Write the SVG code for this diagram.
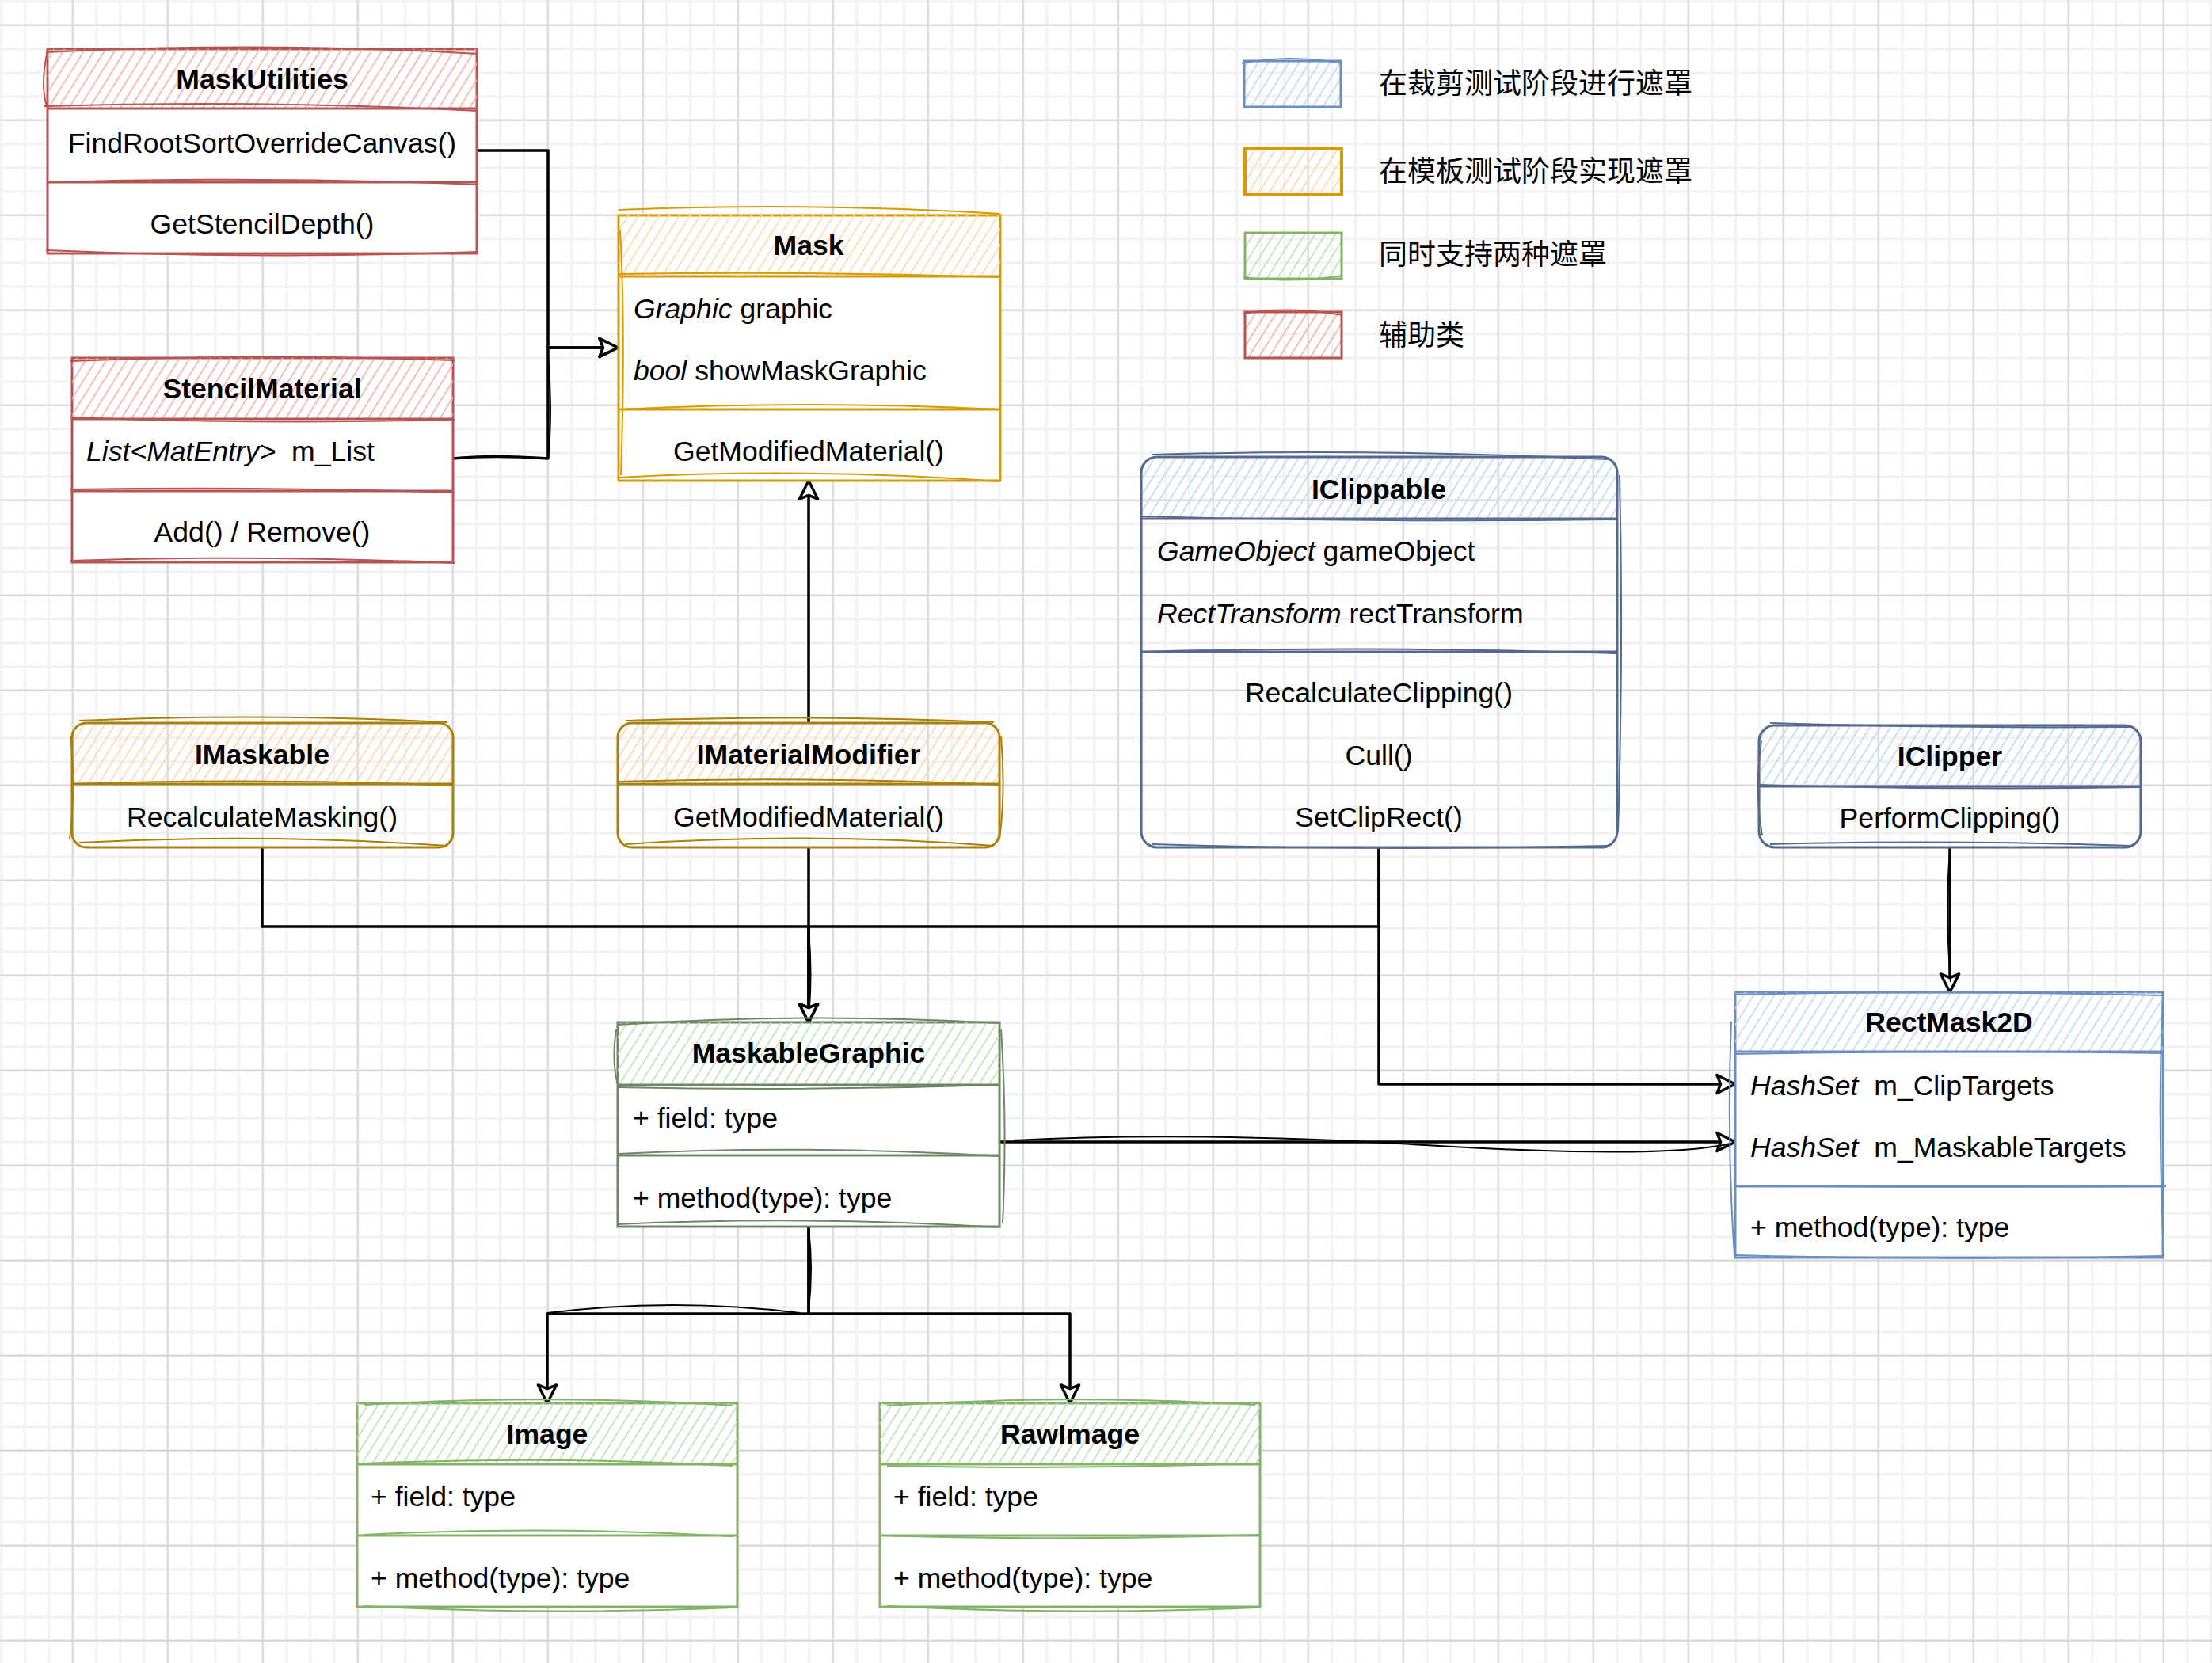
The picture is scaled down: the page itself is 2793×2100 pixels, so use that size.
<svg xmlns="http://www.w3.org/2000/svg" width="2793" height="2100" viewBox="0 0 2793 2100">
<style>
text{font-family:"Liberation Sans",Arial,Helvetica,sans-serif;font-size:35.6px;fill:#000;dominant-baseline:central;white-space:pre}
.h{font-weight:bold;text-anchor:middle}
.c{text-anchor:middle}
.it{font-style:italic}
.cjk{font-family:"Liberation Sans","Noto Sans CJK SC",sans-serif;font-size:36px}
.box{fill:#fff;stroke-width:3}
.sk{fill:none;stroke-width:2}
.red{stroke:#b85450}
.org{stroke:#d79b00}
.gld{stroke:#a8800a}
.dbl{stroke:#53698f}
.blu{stroke:#6c8ebf}
.dgr{stroke:#6d8764}
.grn{stroke:#82b366}
.edge{fill:none;stroke:#000;stroke-width:3.5;stroke-linejoin:round}
</style>
<defs>
<pattern id="gMin" patternUnits="userSpaceOnUse" x="-13.3" y="-13.3" width="30" height="30"><path d="M15,0V30M0,15H30" stroke="#f1f1f1" stroke-width="3"/></pattern>
<pattern id="gMaj" patternUnits="userSpaceOnUse" x="31.7" y="-28.3" width="120" height="120"><path d="M60,0V120M0,60H120" stroke="#d6d6d6" stroke-width="1.8"/></pattern>
<pattern id="hR" patternUnits="userSpaceOnUse" width="11" height="11" patternTransform="rotate(32)"><line x1="3" y1="0" x2="3" y2="11" stroke="#f1b2ae" stroke-width="1.7"/></pattern>
<pattern id="hO" patternUnits="userSpaceOnUse" width="11" height="11" patternTransform="rotate(32)"><line x1="3" y1="0" x2="3" y2="11" stroke="#ffd7ae" stroke-width="1.7"/></pattern>
<pattern id="hB" patternUnits="userSpaceOnUse" width="11" height="11" patternTransform="rotate(32)"><line x1="3" y1="0" x2="3" y2="11" stroke="#c3d8f5" stroke-width="1.7"/></pattern>
<pattern id="hG" patternUnits="userSpaceOnUse" width="11" height="11" patternTransform="rotate(32)"><line x1="3" y1="0" x2="3" y2="11" stroke="#c0dfbd" stroke-width="1.7"/></pattern>
<marker id="tri" markerUnits="userSpaceOnUse" markerWidth="30" markerHeight="30" viewBox="-2 -2 26 24" refX="20" refY="10" orient="auto">
<path d="M0,0 L20,10 L0,20 L4,10 Z" fill="#fff" stroke="#000" stroke-width="3" stroke-linejoin="round"/>
</marker>
</defs>

<rect width="2793" height="2100" fill="#fff"/>
<rect width="2793" height="2100" fill="url(#gMin)"/>
<rect width="2793" height="2100" fill="url(#gMaj)"/>

<g id="legend">
<rect x="1571" y="77" width="122" height="58" fill="url(#hB)" stroke="#6c8ebf" stroke-width="3"/>
<path class="sk blu" d="M1568,80 Q1630,68 1694,80"/>
<text class="cjk" x="1741" y="105">在裁剪测试阶段进行遮罩</text>
<rect x="1572" y="188" width="122" height="58" fill="url(#hO)" stroke="#d79b00" stroke-width="4"/>
<text class="cjk" x="1741" y="216">在模板测试阶段实现遮罩</text>
<rect x="1572" y="294" width="122" height="58" fill="url(#hG)" stroke="#82b366" stroke-width="3"/>
<path class="sk grn" d="M1570,350 Q1630,358 1695,348"/>
<text class="cjk" x="1741" y="321">同时支持两种遮罩</text>
<rect x="1572" y="394" width="122" height="58" fill="url(#hR)" stroke="#b85450" stroke-width="3"/>
<path class="sk red" d="M1570,396 Q1630,386 1695,398"/>
<text class="cjk" x="1741" y="423">辅助类</text>
</g>

<g id="connectors">
<path class="edge" d="M602,190 H692 V439 H780" marker-end="url(#tri)"/>
<path class="edge" d="M572,579 Q620,574 692,579 V439 H780" marker-end="url(#tri)"/>
<path class="sk" stroke="#000" d="M692,450 Q698,520 692,579"/>
<path class="edge" d="M1021,913 V607" marker-end="url(#tri)"/>
<path class="edge" d="M331,1070 V1170 H1021 V1291" marker-end="url(#tri)"/>
<path class="edge" d="M1021,1070 V1291" marker-end="url(#tri)"/>
<path class="sk" stroke="#000" d="M1021,1175 Q1026,1230 1021,1285"/>
<path class="edge" d="M1741,1070 V1170 H1021 V1291" marker-end="url(#tri)"/>
<path class="edge" d="M1741,1070 V1369 H2191" marker-end="url(#tri)"/>
<path class="edge" d="M1262,1442 H2191" marker-end="url(#tri)"/>
<path class="sk" stroke="#000" d="M1280,1440 Q1500,1428 1800,1446 T2185,1444"/>
<path class="edge" d="M2462,1070 V1253" marker-end="url(#tri)"/>
<path class="sk" stroke="#000" d="M2462,1075 Q2456,1150 2463,1240"/>
<path class="edge" d="M1021,1549 V1659 H691 V1772" marker-end="url(#tri)"/>
<path class="edge" d="M1021,1549 V1659 H1351 V1772" marker-end="url(#tri)"/>
<path class="sk" stroke="#000" d="M1021,1552 Q1027,1600 1021,1655"/>
<path class="sk" stroke="#000" d="M691,1658 Q850,1638 1010,1658"/>
</g>

<g id="MaskUtilities">
<rect class="box red" x="60" y="62" width="542" height="258"/>
<rect x="60" y="62" width="542" height="75" fill="url(#hR)"/>
<path class="sk red" d="M58,66 Q330,52 604,68 M56,134 Q330,126 604,140 M60,230 Q330,222 604,233 M58,316 Q330,328 604,318 M60,64 Q50,110 60,137"/>
<path fill="none" stroke="#b85450" stroke-width="3" d="M60,137 H602 M60,230 H602"/>
<text class="h" x="331" y="100">MaskUtilities</text>
<text class="c" x="331" y="181">FindRootSortOverrideCanvas()</text>
<text class="c" x="331" y="283">GetStencilDepth()</text>
</g>

<g id="StencilMaterial">
<rect class="box red" x="91" y="452" width="481" height="258"/>
<rect x="91" y="452" width="481" height="77" fill="url(#hR)"/>
<path class="sk red" d="M89,456 Q330,446 574,455 M89,527 Q330,536 574,530 M89,618 Q330,614 574,622 M89,708 Q330,700 574,711"/>
<path fill="none" stroke="#b85450" stroke-width="3" d="M91,529 H572 M91,620 H572"/>
<text class="h" x="331" y="491">StencilMaterial</text>
<text x="109" y="570"><tspan class="it">List&lt;MatEntry&gt;</tspan>  m_List</text>
<text class="c" x="331" y="672">Add() / Remove()</text>
</g>

<g id="Mask">
<rect class="box org" x="781" y="272" width="482" height="335"/>
<rect x="781" y="272" width="482" height="77" fill="url(#hO)"/>
<path class="sk org" d="M781,265 Q1020,255 1263,270 M781,346 Q1020,342 1263,350 M781,517 Q1020,505 1263,517 M781,603 Q1020,590 1263,608 M783,290 Q790,420 784,600"/>
<path fill="none" stroke="#d79b00" stroke-width="3" d="M781,349 H1263 M781,517 H1263"/>
<text class="h" x="1021" y="310">Mask</text>
<text x="800" y="390"><tspan class="it">Graphic</tspan> graphic</text>
<text x="800" y="468"><tspan class="it">bool</tspan> showMaskGraphic</text>
<text class="c" x="1021" y="570">GetModifiedMaterial()</text>
</g>

<g id="IMaskable">
<path d="M91,990 V933 Q91,913 111,913 H552 Q572,913 572,933 V990 Z" fill="url(#hO)"/>
<rect class="box gld" x="91" y="913" width="481" height="157" rx="18" style="fill:none"/>
<path class="sk gld" d="M100,910 Q330,900 565,912 M91,990 Q330,982 572,992 M100,1064 Q330,1052 565,1068 M89,930 Q96,990 88,1060"/>
<path fill="none" stroke="#a8800a" stroke-width="3" d="M91,990 H572"/>
<text class="h" x="331" y="953">IMaskable</text>
<text class="c" x="331" y="1032">RecalculateMasking()</text>
</g>

<g id="IMaterialModifier">
<path d="M780,990 V933 Q780,913 800,913 H1242 Q1262,913 1262,933 V990 Z" fill="url(#hO)"/>
<rect class="box gld" x="780" y="913" width="482" height="157" rx="18" style="fill:none"/>
<path class="sk gld" d="M790,910 Q1020,902 1255,912 M780,987 Q1020,980 1262,991 M790,1066 Q1020,1050 1255,1068 M1264,930 Q1270,1000 1262,1060"/>
<path fill="none" stroke="#a8800a" stroke-width="3" d="M780,990 H1262"/>
<text class="h" x="1021" y="953">IMaterialModifier</text>
<text class="c" x="1021" y="1032">GetModifiedMaterial()</text>
</g>

<g id="IClippable">
<path d="M1441,655 V597 Q1441,577 1461,577 H2022 Q2042,577 2042,597 V655 Z" fill="url(#hB)"/>
<rect class="box dbl" x="1441" y="577" width="601" height="493" rx="20" style="fill:none"/>
<path class="sk dbl" d="M1455,574 Q1740,566 2030,580 M1441,652 Q1740,660 2042,656 M1441,823 Q1740,815 2042,825 M1455,1066 Q1740,1075 2030,1068 M2045,600 Q2050,820 2043,1050"/>
<path fill="none" stroke="#53698f" stroke-width="3" d="M1441,655 H2042 M1441,823 H2042"/>
<text class="h" x="1741" y="618">IClippable</text>
<text x="1461" y="696"><tspan class="it">GameObject</tspan> gameObject</text>
<text x="1461" y="775"><tspan class="it">RectTransform</tspan> rectTransform</text>
<text class="c" x="1741" y="875">RecalculateClipping()</text>
<text class="c" x="1741" y="954">Cull()</text>
<text class="c" x="1741" y="1032">SetClipRect()</text>
</g>

<g id="IClipper">
<path d="M2221,993 V936 Q2221,916 2241,916 H2683 Q2703,916 2703,936 V993 Z" fill="url(#hB)"/>
<rect class="box dbl" x="2221" y="916" width="482" height="154" rx="20" style="fill:none"/>
<path class="sk dbl" d="M2235,913 Q2460,920 2690,918 M2221,991 Q2460,998 2703,994 M2235,1066 Q2460,1060 2690,1068 M2224,935 Q2215,1000 2225,1055"/>
<path fill="none" stroke="#53698f" stroke-width="3" d="M2221,993 H2703"/>
<text class="h" x="2462" y="955">IClipper</text>
<text class="c" x="2462" y="1033">PerformClipping()</text>
</g>

<g id="MaskableGraphic">
<rect class="box dgr" x="780" y="1291" width="482" height="258"/>
<rect x="780" y="1291" width="482" height="79" fill="url(#hG)"/>
<path class="sk dgr" d="M780,1294 Q1020,1278 1262,1292 M780,1373 Q1020,1378 1262,1370 M780,1457 Q1020,1445 1262,1460 M780,1546 Q1020,1535 1262,1550 M778,1300 Q772,1340 780,1370 M1264,1300 Q1272,1420 1266,1545"/>
<path fill="none" stroke="#6d8764" stroke-width="3" d="M780,1370 H1262 M780,1459 H1262"/>
<text class="h" x="1021" y="1330">MaskableGraphic</text>
<text x="799" y="1412">+ field: type</text>
<text x="799" y="1513">+ method(type): type</text>
</g>

<g id="RectMask2D">
<rect class="box blu" x="2191" y="1253" width="540" height="335"/>
<rect x="2191" y="1253" width="540" height="75" fill="url(#hB)"/>
<path class="sk blu" d="M2191,1256 Q2460,1250 2731,1257 M2191,1331 Q2460,1326 2731,1330 M2191,1497 Q2460,1500 2735,1498 M2191,1585 Q2460,1592 2731,1586 M2186,1290 Q2180,1440 2190,1585 M2731,1260 Q2724,1400 2732,1585"/>
<path fill="none" stroke="#6c8ebf" stroke-width="3" d="M2191,1328 H2731 M2191,1498 H2731"/>
<text class="h" x="2461" y="1291">RectMask2D</text>
<text x="2210" y="1371"><tspan class="it">HashSet</tspan>  m_ClipTargets</text>
<text x="2210" y="1449"><tspan class="it">HashSet</tspan>  m_MaskableTargets</text>
<text x="2210" y="1550">+ method(type): type</text>
</g>

<g id="Image">
<rect class="box grn" x="451" y="1772" width="480" height="257"/>
<rect x="451" y="1772" width="480" height="77" fill="url(#hG)"/>
<path class="sk grn" d="M460,1774 Q690,1760 925,1775 M460,1848 Q690,1838 925,1851 M460,1938 Q690,1926 925,1940 M460,2028 Q690,2040 925,2030"/>
<path fill="none" stroke="#82b366" stroke-width="3" d="M451,1849 H931 M451,1939 H931"/>
<text class="h" x="691" y="1811">Image</text>
<text x="468" y="1890">+ field: type</text>
<text x="468" y="1993">+ method(type): type</text>
</g>

<g id="RawImage">
<rect class="box grn" x="1111" y="1772" width="480" height="257"/>
<rect x="1111" y="1772" width="480" height="77" fill="url(#hG)"/>
<path class="sk grn" d="M1120,1775 Q1350,1760 1585,1774 M1120,1851 Q1350,1856 1585,1848 M1111,1939 Q1350,1946 1591,1938 M1120,2028 Q1350,2040 1585,2030"/>
<path fill="none" stroke="#82b366" stroke-width="3" d="M1111,1849 H1591 M1111,1939 H1591"/>
<text class="h" x="1351" y="1811">RawImage</text>
<text x="1128" y="1890">+ field: type</text>
<text x="1128" y="1993">+ method(type): type</text>
</g>
</svg>
